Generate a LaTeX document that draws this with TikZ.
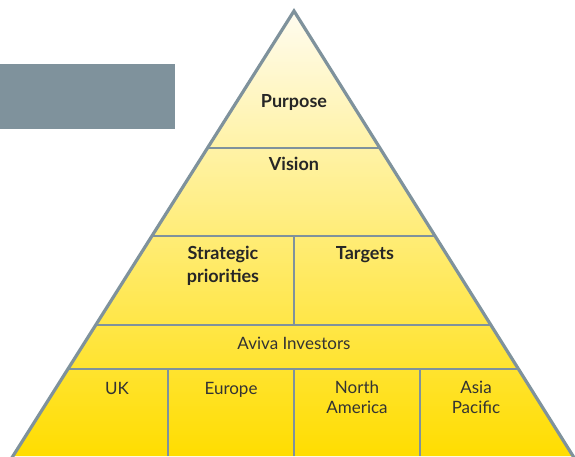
\documentclass[tikz,border=0pt]{standalone}
\usepackage{fontspec}
\setmainfont{Lato}
\usetikzlibrary{calc}
\definecolor{slate}{HTML}{7F929C}
\definecolor{cream}{HTML}{FFFCF0}
\definecolor{straw}{HTML}{FDEBA2}
\definecolor{sun}{HTML}{FFDD00}
\tikzset{tier/.style = {draw = slate, line width = 1.3pt}}
\tikzset{head/.style = {font = \bfseries\fontsize{18}{23}\selectfont, align = center, anchor = base, text = black!85}}
\tikzset{region/.style = {font = \fontsize{17}{19.5}\selectfont, align = center, anchor = base, text = black!80}}

\begin{document}
\begin{tikzpicture}[x = 1pt, y = -1pt]
\useasboundingbox (0,0) rectangle (575,456);
\coordinate (A) at (294,11);
\coordinate (B) at (13,456);
\coordinate (C) at (573,456);
\fill [slate] (0,64) rectangle (175,129);
\shade [top color = cream, middle color = straw, bottom color = sun] (A) -- (B) -- (C) -- cycle;
% tiers
\foreach \t in {0.3079, 0.5056, 0.7056, 0.8045}
  \draw [tier] ($(A)!\t!(B)$) -- ($(A)!\t!(C)$);
\draw [tier] (294,236) -- (294,325);
\draw [tier] (168,369) -- (168,456);
\draw [tier] (294,369) -- (294,456);
\draw [tier] (420,369) -- (420,456);
\draw [slate, line width = 3.2pt, line join = miter] ($(A)!1.02!(B)$) -- (A) -- ($(A)!1.02!(C)$);
% labels (base = last line)
\node [head] (purpose) at (294,107) {Purpose};
\node [head] (vision) at (294,170) {Vision};
\node [head] (strategy) at (223,282) {Strategic\\priorities};
\node [head] (targets) at (365,259) {Targets};
\node [region] (investors) at (294,349) {Aviva Investors};
\node [region] (uk) at (117,394) {UK};
\node [region] (europe) at (231,394) {Europe};
\node [region] (namerica) at (357,413) {North\\America};
\node [region] (apac) at (476,413) {Asia\\Pacific};
\end{tikzpicture}
\end{document}
